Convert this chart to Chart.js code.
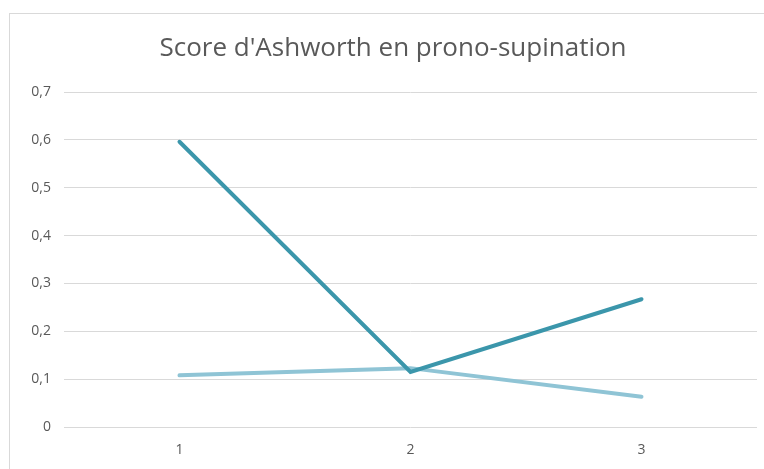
<!DOCTYPE html>
<html>
<head>
<meta charset="utf-8">
<script src="https://cdn.jsdelivr.net/npm/chart.js@4"></script>
<style>
  html, body { margin: 0; padding: 0; background: #fff; overflow: hidden; }
  #wrap { position: relative; width: 764px; height: 469px; }
  #frame { position: absolute; left: 9px; top: 13px; width: 800px; height: 500px; border: 1px solid #d9d9d9; box-sizing: border-box; }
  canvas { position: absolute; left: 0; top: 0; }
</style>
</head>
<body>
<div id="wrap">
  <div id="frame"></div>
  <canvas id="chart" width="764" height="469"></canvas>
</div>
<script>
// données
const categories = ['1', '2', '3'];
const serieFoncee = [0.596, 0.115, 0.267];
const serieClaire = [0.108, 0.123, 0.063];
const titre = "Score d'Ashworth en prono-supination";

const gris = '#595959';

// le titre est centré sur le cadre entier du graphique (plus large que la fenêtre)
const titrePlugin = {
    id: 'titreCadre',
    afterDraw(chart) {
        const ctx = chart.ctx;
        ctx.save();
        ctx.font = '26px "Open Sans"';
        ctx.fillStyle = gris;
        ctx.textAlign = 'center';
        ctx.textBaseline = 'alphabetic';
        ctx.fillText(titre, 393, 56);
        ctx.restore();
    }
};

new Chart(document.getElementById('chart'), {
    type: 'line',
    data: {
        labels: categories,
        datasets: [{
            data: serieFoncee,
            borderColor: '#3b96ab',
            borderWidth: 4,
            pointRadius: 0,
            borderCapStyle: 'round',
            tension: 0
        }, {
            data: serieClaire,
            borderColor: '#8fc4d5',
            borderWidth: 4,
            pointRadius: 0,
            borderCapStyle: 'round',
            tension: 0
        }]
    },
    plugins: [titrePlugin],
    options: {
        responsive: false,
        animation: false,
        layout: { padding: { left: 0, right: 7, top: 92, bottom: 0 } },
        plugins: {
            legend: { display: false },
            tooltip: { enabled: false },
            title: { display: false }
        },
        scales: {
            x: {
                offset: true,
                grid: { display: false, drawTicks: false },
                border: { display: false },
                ticks: { color: gris, font: { family: 'Open Sans', size: 14 }, padding: 15 },
                afterFit: (scale) => { scale.height = 42; }
            },
            y: {
                min: 0,
                max: 0.7,
                grid: { color: '#d9d9d9', lineWidth: 1, drawTicks: false },
                border: { display: false },
                ticks: {
                    stepSize: 0.1,
                    color: gris,
                    font: { family: 'Open Sans', size: 14 },
                    padding: 13,
                    callback: (v) => v === 0 ? '0' : v.toFixed(1).replace('.', ',')
                },
                afterFit: (scale) => { scale.width = 64; }
            }
        }
    }
});
</script>
</body>
</html>
